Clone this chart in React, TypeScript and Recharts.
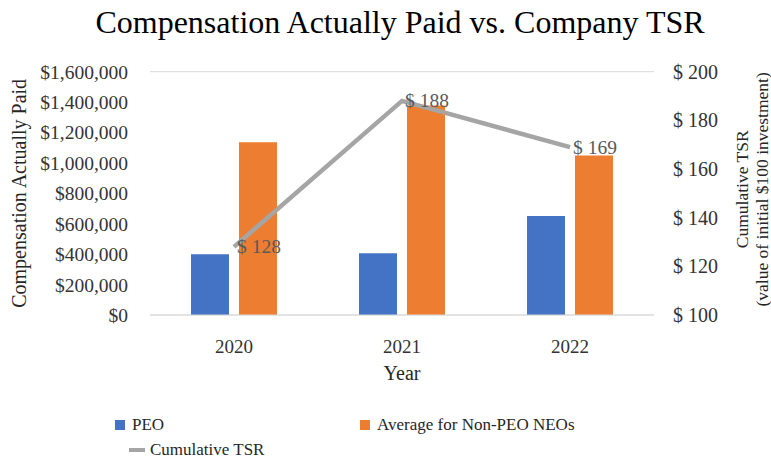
import React from 'react';
import { ComposedChart, Bar, Line, XAxis, YAxis, CartesianGrid } from 'recharts';

const years = ['2020', '2021', '2022'];
const peoPaid = [400000, 406000, 651000];
const neoPaid = [1136000, 1377000, 1049000];
const tsrValues = [128, 188, 169];
const leftTicks = [0, 200000, 400000, 600000, 800000, 1000000, 1200000, 1400000, 1600000];
const rightTicks = [100, 120, 140, 160, 180, 200];

const data = years.map((year, i) => ({
  year,
  peo: peoPaid[i],
  neo: neoPaid[i],
  tsr: tsrValues[i],
}));

const FONT = '"Liberation Serif", "Times New Roman", serif';
const BLUE = '#4472C4';
const ORANGE = '#ED7D31';
const GREY = '#A5A5A5';
const TICK = '#333333';

const money = (v: number) => '$' + v.toLocaleString('en-US');
const tsrFmt = (v: number) => '$ ' + v;

const LeftTitle = ({ viewBox }: any) => {
  const cx = viewBox.x + 19;
  const cy = viewBox.y + viewBox.height / 2;
  return (
    <text x={cx} y={cy} transform={`rotate(-90, ${cx}, ${cy})`} textAnchor="middle" dominantBaseline="central"
      fontFamily={FONT} fontSize={20} fill="#262626">
      Compensation Actually Paid
    </text>
  );
};

const RightTitle = ({ viewBox }: any) => {
  const cx = viewBox.x + 94;
  const cy = viewBox.y + viewBox.height / 2 - 4;
  return (
    <text transform={`rotate(-90, ${cx}, ${cy})`} textAnchor="middle" fontFamily={FONT} fontSize={17.5} fill="#262626">
      <tspan x={cx} y={cy}>Cumulative TSR</tspan>
      <tspan x={cx} y={cy + 20}>(value of initial $100 investment)</tspan>
    </text>
  );
};

const YearTitle = ({ viewBox }: any) => (
  <text x={viewBox.x + viewBox.width / 2} y={viewBox.y + 65} textAnchor="middle" fontFamily={FONT} fontSize={20} fill="#262626">
    Year
  </text>
);

const TsrLabel = ({ x, y, value }: any) => (
  <text x={x + 3} y={y} dominantBaseline="central" fontFamily={FONT} fontSize={19.5} fill="#595959">
    {tsrFmt(value)}
  </text>
);

const legendItems = [
  { name: 'PEO', color: BLUE, kind: 'square', left: 115, top: 417 },
  { name: 'Average for Non-PEO NEOs', color: ORANGE, kind: 'square', left: 360, top: 417 },
  { name: 'Cumulative TSR', color: GREY, kind: 'line', left: 129, top: 442 },
];

export default function App() {
  return (
    <div style={{ position: 'absolute', left: 0, top: 0, width: 771, height: 461, background: '#fff', fontFamily: FONT }}>
      <div style={{ position: 'absolute', left: 0, top: 2, width: 800, textAlign: 'center', fontSize: 32, color: '#000', lineHeight: '40px' }}>
        Compensation Actually Paid vs. Company TSR
      </div>
      <ComposedChart
        width={771}
        height={461}
        data={data}
        margin={{ top: 71.7, right: 0, bottom: 0, left: 0 }}
        barGap={10}
        style={{ fontFamily: FONT }}
      >
        <CartesianGrid vertical={false} stroke="#D9D9D9" strokeWidth={1} />
        <XAxis
          dataKey="year"
          height={146}
          tickSize={0}
          tickMargin={25}
          axisLine={{ stroke: '#D9D9D9' }}
          tick={{ fontFamily: FONT, fontSize: 19, fill: TICK }}
          label={<YearTitle />}
        />
        <YAxis
          yAxisId="left"
          orientation="left"
          width={150}
          domain={[0, 1600000]}
          ticks={leftTicks}
          tickFormatter={money}
          tickSize={0}
          tickMargin={22}
          axisLine={false}
          tick={{ fontFamily: FONT, fontSize: 19.5, fill: TICK }}
          label={<LeftTitle />}
        />
        <YAxis
          yAxisId="right"
          orientation="right"
          width={117}
          domain={[100, 200]}
          ticks={rightTicks}
          tickFormatter={tsrFmt}
          tickSize={0}
          tickMargin={19}
          axisLine={false}
          tick={{ fontFamily: FONT, fontSize: 20, fill: TICK, textAnchor: 'start' }}
          label={<RightTitle />}
        />
        <Bar yAxisId="left" dataKey="peo" name="PEO" fill={BLUE} barSize={38} isAnimationActive={false} />
        <Bar yAxisId="left" dataKey="neo" name="Average for Non-PEO NEOs" fill={ORANGE} barSize={38} isAnimationActive={false} />
        <Line
          yAxisId="right"
          dataKey="tsr"
          name="Cumulative TSR"
          type="linear"
          stroke={GREY}
          strokeWidth={4.5}
          dot={false}
          activeDot={false}
          label={<TsrLabel />}
          isAnimationActive={false}
        />
      </ComposedChart>
      {legendItems.map((item) => (
        <div key={item.name} style={{ position: 'absolute', left: item.left, top: item.top, display: 'flex', alignItems: 'center', fontSize: 17, color: '#262626', lineHeight: '16px', whiteSpace: 'nowrap' }}>
          {item.kind === 'square' ? (
            <span style={{ display: 'inline-block', width: 10, height: 10, background: item.color, marginRight: 7 }} />
          ) : (
            <span style={{ display: 'inline-block', width: 16, height: 4, background: item.color, marginRight: 5 }} />
          )}
          {item.name}
        </div>
      ))}
    </div>
  );
}
